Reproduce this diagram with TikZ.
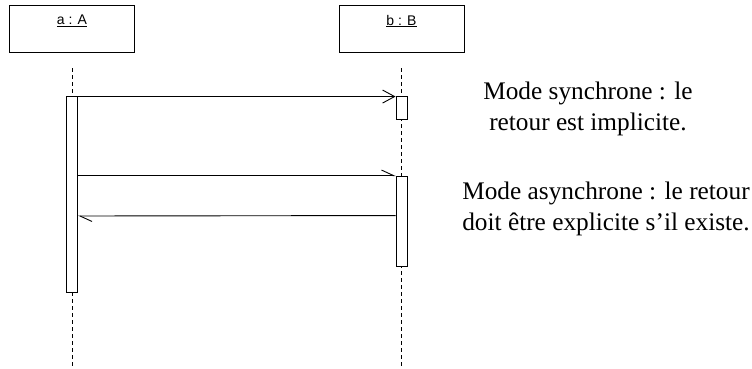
\documentclass[tikz,border=0pt]{standalone}
\usepackage{fontspec}
\setmainfont{Liberation Serif}
\setsansfont{Liberation Sans}
\usepackage{tikz}
\usetikzlibrary{arrows.meta}

\tikzset{
    obj/.style={draw, minimum width=125pt, minimum height=47pt, inner sep=0pt},
    objlabel/.style={anchor=north, inner sep=0pt, font=\sffamily\fontsize{14}{14}\selectfont},
    act/.style={draw, fill=white, minimum width=11pt, inner sep=0pt},
    life/.style={dash pattern=on 4pt off 3pt},
    syncmsg/.style={-{Straight Barb[length=12pt,width=13pt]}},
    asyncmsg/.style={-{Straight Barb[left,length=12pt,width=11pt]}},
    note/.style={align=center, font=\fontsize{25.3}{31.5}\selectfont}
}

\begin{document}
\begin{tikzpicture}[x=1pt, y=-1pt, line width=0.9pt]
        \useasboundingbox (0,0) rectangle (752,369);
        % objects
        \node[obj] (A) at (72,28.5) {};
        \node[objlabel] (Alab) at ([yshift=-10pt]A.north) {\underline{a : A}};
        \node[obj] (B) at (401.5,28.5) {};
        \node[objlabel] (Blab) at ([yshift=-10pt]B.north) {\underline{b : B}};
        % lifelines
        \draw[life] ([yshift=-16pt]A.south) -- (A.south |- 0,369);
        \draw[life] ([yshift=-16pt]B.south) -- (B.south |- 0,369);
        % activations
        \node[act, minimum height=196pt] (a1) at (72,194) {};
        \node[act, minimum height=23pt] (b1) at (401.5,107.5) {};
        \node[act, minimum height=90pt] (b2) at (401.5,221) {};
        % messages
        \draw[syncmsg] ([yshift=-1pt]a1.north east) -- ([yshift=-1pt]b1.north west);
        \draw[asyncmsg] (a1.east |- b2.north west) -- (b2.north west);
        \draw[asyncmsg] ([yshift=-40pt]b2.north west) -- (a1.east |- 0,216);
        % notes
        \node[note] (sync) at (588,109) {Mode synchrone : le\\retour est implicite.};
        \node[note] (async) at (606,209) {Mode asynchrone : le retour\\doit être explicite s'il existe.};
    \end{tikzpicture}
\end{document}
